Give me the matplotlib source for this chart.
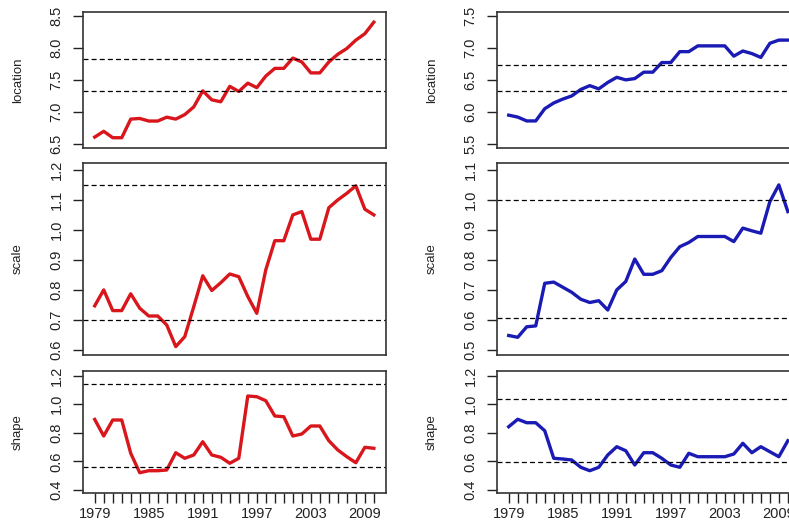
import matplotlib.pyplot as plt
import numpy as np

plt.rcParams['font.family'] = ['Liberation Sans', 'DejaVu Sans']

years = np.arange(1979, 2011)

# left column (red)
loc_red = [6.61, 6.70, 6.60, 6.60, 6.89, 6.90, 6.86, 6.86, 6.92, 6.89, 6.96, 7.08,
           7.33, 7.19, 7.16, 7.40, 7.32, 7.45, 7.38, 7.56, 7.68, 7.68, 7.84, 7.78,
           7.61, 7.61, 7.78, 7.90, 7.99, 8.12, 8.22, 8.40]
scale_red = [0.747, 0.800, 0.731, 0.731, 0.787, 0.739, 0.713, 0.713, 0.683, 0.611, 0.644, 0.744,
             0.847, 0.798, 0.824, 0.853, 0.844, 0.778, 0.722, 0.867, 0.964, 0.964, 1.050, 1.061,
             0.969, 0.969, 1.074, 1.100, 1.122, 1.147, 1.069, 1.050]
shape_red = [0.894, 0.778, 0.890, 0.890, 0.657, 0.521, 0.535, 0.535, 0.540, 0.661, 0.622, 0.645,
             0.738, 0.645, 0.629, 0.587, 0.622, 1.058, 1.053, 1.025, 0.918, 0.913, 0.778, 0.792,
             0.848, 0.848, 0.745, 0.680, 0.633, 0.591, 0.699, 0.692]

# right column (blue)
loc_blue = [5.95, 5.92, 5.86, 5.86, 6.05, 6.14, 6.20, 6.25, 6.35, 6.41, 6.36, 6.46,
            6.54, 6.50, 6.52, 6.62, 6.62, 6.77, 6.77, 6.94, 6.94, 7.03, 7.03, 7.03,
            7.03, 6.87, 6.95, 6.91, 6.85, 7.07, 7.12, 7.12]
scale_blue = [0.548, 0.542, 0.577, 0.580, 0.722, 0.726, 0.709, 0.692, 0.669, 0.658, 0.664, 0.633,
              0.700, 0.728, 0.803, 0.752, 0.752, 0.764, 0.808, 0.844, 0.858, 0.878, 0.878, 0.878,
              0.878, 0.861, 0.906, 0.897, 0.889, 0.994, 1.050, 0.961]
shape_blue = [0.843, 0.895, 0.871, 0.871, 0.815, 0.622, 0.617, 0.610, 0.559, 0.535, 0.559, 0.645,
              0.703, 0.675, 0.575, 0.661, 0.661, 0.622, 0.575, 0.559, 0.657, 0.633, 0.633, 0.633,
              0.633, 0.652, 0.727, 0.661, 0.703, 0.668, 0.633, 0.745]

ref_red = [(7.83, 7.33), (1.15, 0.70), (1.142, 0.561)]
ref_blue = [(6.73, 6.33), (1.0, 0.606), (1.037, 0.596)]

ylims_red = [(6.44, 8.558), (0.583, 1.224), (0.379, 1.233)]
ylims_blue = [(5.438, 7.558), (0.483, 1.124), (0.379, 1.233)]
yticks_red = [np.arange(6.5, 8.51, 0.5), np.arange(0.6, 1.21, 0.1), np.arange(0.4, 1.21, 0.2)]
yticks_blue = [np.arange(5.5, 7.51, 0.5), np.arange(0.5, 1.11, 0.1), np.arange(0.4, 1.21, 0.2)]
labels = ['location', 'scale', 'shape']

fig = plt.figure(figsize=(7.89, 5.23), dpi=100)

W, H = 789.0, 523.0
rows = [(12, 148), (162.7, 355), (371, 493)]
cols = [83, 497]
width = 303

columns = [
    ([loc_red, scale_red, shape_red], ref_red, ylims_red, yticks_red, '#d8161b'),
    ([loc_blue, scale_blue, shape_blue], ref_blue, ylims_blue, yticks_blue, '#1a1ab4'),
]

for c, (series, refs, ylims, yticks, color) in enumerate(columns):
    for r in range(3):
        top, bot = rows[r]
        ax = fig.add_axes([cols[c] / W, 1 - bot / H, width / W, (bot - top) / H])
        ax.plot(years, series[r], color=color, lw=2.4)
        for v in refs[r]:
            ax.axhline(v, color='black', lw=0.9, ls=(0, (4, 2.5)))
        ax.set_xlim(1977.7, 2011.35)
        ax.set_ylim(*ylims[r])
        ax.set_yticks(yticks[r])
        ax.set_yticklabels(['%.1f' % t for t in yticks[r]])
        plt.setp(ax.get_yticklabels(), rotation=90, va='center')
        ax.tick_params(axis='y', length=7, width=1.0, pad=7, labelsize=10.5, colors='#222222')
        if r == 2:
            ax.set_xticks(years)
            ax.set_xticklabels([str(y) if (y - 1979) % 6 == 0 else '' for y in years])
            ax.tick_params(axis='x', length=7, width=1.0, pad=3, labelsize=10.5, colors='#222222')
        else:
            ax.set_xticks([])
        ax.set_ylabel(labels[r], fontsize=9.5, color='#222222')
        ax.yaxis.set_label_coords(-0.195, 0.5)
        for s in ax.spines.values():
            s.set_linewidth(1.2)
            s.set_color('#333333')

fig.savefig('out.png', dpi=100)
